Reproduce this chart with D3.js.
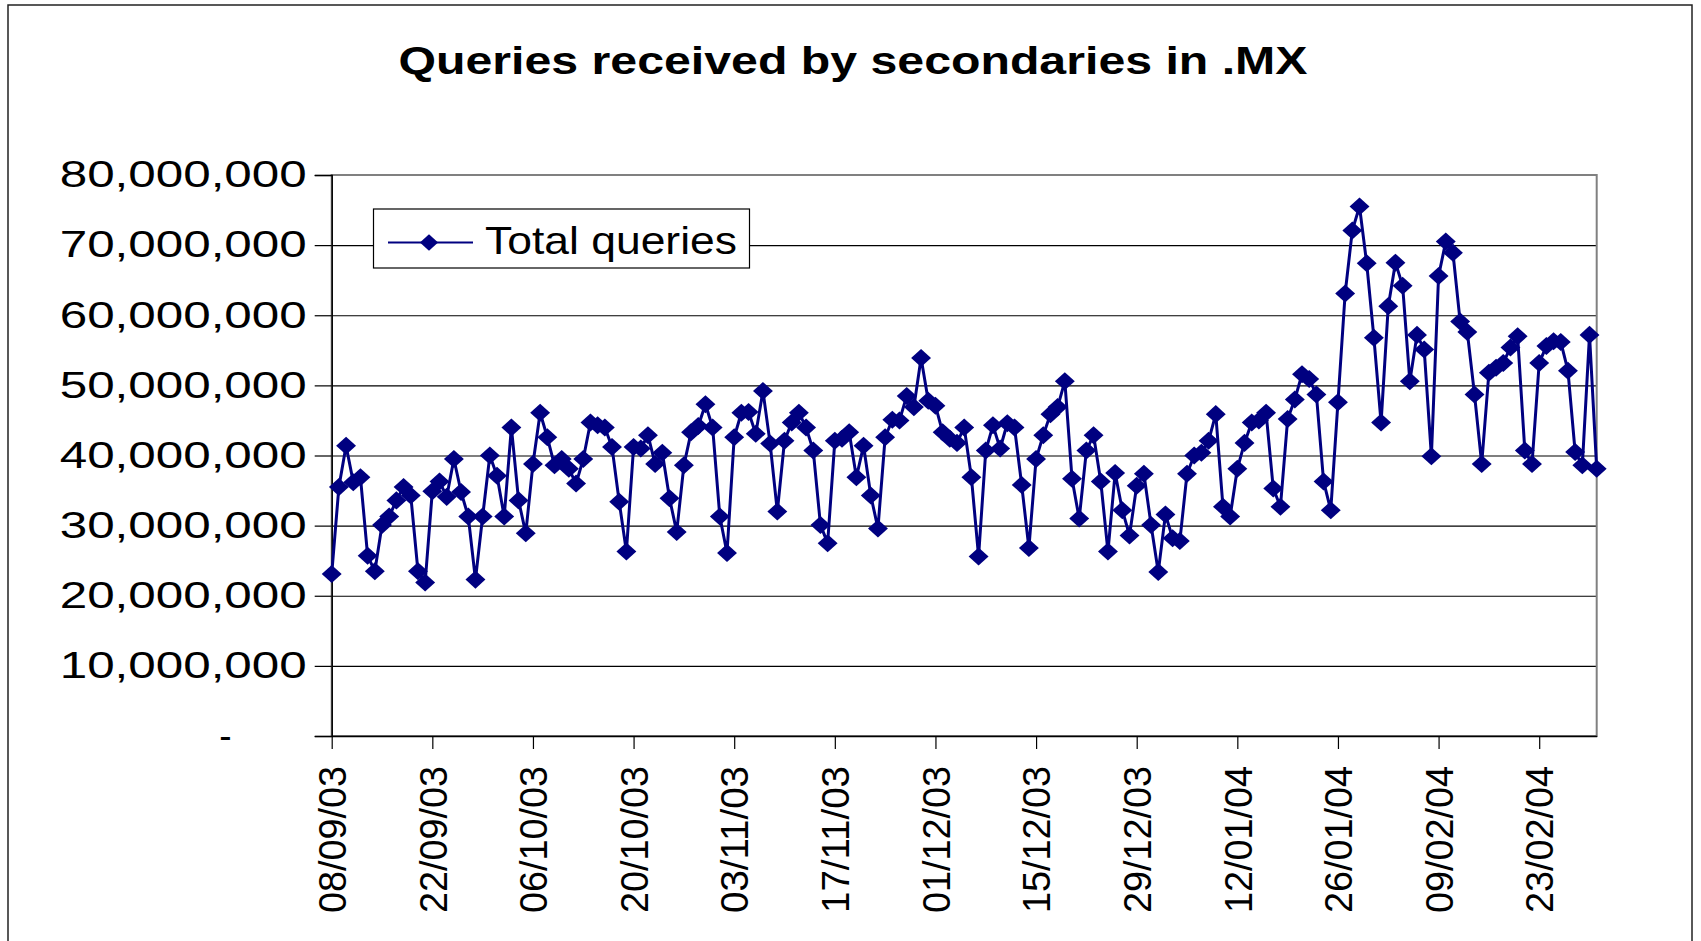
<!DOCTYPE html>
<html>
<head>
<meta charset="utf-8">
<script src="https://cdn.jsdelivr.net/npm/d3@7/dist/d3.min.js"></script>
<style>
  body { margin: 0; background: #fff; }
  svg { display: block; }
  text { font-family: "Liberation Sans", Arial, sans-serif; fill: #000; }
</style>
</head>
<body>
<svg id="chart"></svg>
<script>
// SET DATA
const startDay = "08/09/03";
// daily totals, millions of queries, 08/09/03 .. 02/03/04
const totalQueries = [
  23.1, 35.5, 41.4, 36.2, 36.9, 25.7, 23.5, 30.1, 31.3, 33.6, 35.5, 34.3, 23.5, 21.9,
  34.9, 36.3, 34.1, 39.5, 34.8, 31.3, 22.3, 31.3, 40.0, 37.1, 31.3, 44.0, 33.6, 28.9,
  38.8, 46.1, 42.6, 38.6, 39.5, 38.1, 36.0, 39.5, 44.7, 44.3, 44.0, 41.2, 33.4, 26.3,
  41.2, 41.0, 42.9, 38.8, 40.4, 33.9, 29.1, 38.6, 43.3, 44.2, 47.3, 44.0, 31.3, 26.1,
  42.6, 46.1, 46.2, 43.1, 49.2, 41.7, 32.0, 42.1, 44.7, 46.1, 44.0, 40.7, 30.1, 27.5,
  42.1, 42.4, 43.3, 36.9, 41.4, 34.3, 29.6, 42.6, 45.1, 45.0, 48.5, 46.9, 53.9, 47.8,
  47.1, 43.3, 42.4, 41.8, 44.0, 36.9, 25.6, 40.7, 44.3, 41.0, 44.6, 44.0, 35.8, 26.8,
  39.5, 42.9, 45.9, 46.9, 50.6, 36.7, 31.0, 40.7, 42.9, 36.3, 26.3, 37.5, 32.2, 28.6,
  35.7, 37.4, 30.1, 23.4, 31.6, 28.2, 27.8, 37.4, 40.0, 40.4, 42.1, 45.9, 32.7, 31.3,
  38.1, 41.8, 44.7, 45.0, 46.1, 35.3, 32.7, 45.2, 48.0, 51.6, 50.9, 48.7, 36.3, 32.2,
  47.6, 63.1, 72.1, 75.5, 67.4, 56.8, 44.7, 61.3, 67.5, 64.2, 50.6, 57.2, 55.1, 39.9,
  65.6, 70.5, 68.9, 59.1, 57.6, 48.7, 38.8, 51.8, 52.5, 53.2, 55.4, 57.0, 40.7, 38.8,
  53.2, 55.6, 56.3, 56.2, 52.1, 40.5, 38.6, 57.2, 38.1
];
const xTickLabels = ["08/09/03", "22/09/03", "06/10/03", "20/10/03", "03/11/03", "17/11/03", "01/12/03",
                     "15/12/03", "29/12/03", "12/01/04", "26/01/04", "09/02/04", "23/02/04"];
const yTickValues = [0, 10e6, 20e6, 30e6, 40e6, 50e6, 60e6, 70e6, 80e6];
const seriesName = "Total queries";
const chartTitle = "Queries received by secondaries in .MX";

// SET VARIABLES
const _width = 1701, _height = 941;
const _plot = {left: 331.7, top: 175, right: 1596.7, bottom: 736};
const _navy = "#000080";

const parseDay = d3.timeParse("%d/%m/%y");
const formatDay = d3.timeFormat("%d/%m/%y");
const day0 = parseDay(startDay);
const rows = totalQueries.map((v, i) => ({date: d3.timeDay.offset(day0, i), value: v * 1e6}));

const x = d3.scaleTime()
            .domain(d3.extent(rows, d => d.date))
            .range([_plot.left, _plot.right]);
const y = d3.scaleLinear()
            .domain([0, 80e6])
            .range([_plot.bottom, _plot.top]);

const svg = d3.select("#chart")
              .attr("width", _width)
              .attr("height", _height);

svg.append("rect")
    .attr("width", _width).attr("height", _height)
    .attr("fill", "#fff");

// outer frame
svg.append("rect")
    .attr("x", 8).attr("y", 5)
    .attr("width", 1684).attr("height", 1000)
    .attr("fill", "none")
    .attr("stroke", "#222")
    .attr("stroke-width", 1.5);

// title
svg.append("text")
    .attr("x", 853).attr("y", 74)
    .attr("text-anchor", "middle")
    .attr("font-size", 39)
    .attr("font-weight", "bold")
    .attr("textLength", 909)
    .attr("lengthAdjust", "spacingAndGlyphs")
    .text(chartTitle);

// gridlines
svg.append("g")
    .attr("transform", `translate(${_plot.left},0)`)
    .call(d3.axisLeft(y).tickValues(yTickValues).tickSize(-(_plot.right - _plot.left)).tickFormat(""))
    .call(g => g.select(".domain").remove())
    .call(g => g.selectAll(".tick line").attr("stroke", "#000").attr("stroke-width", 1.2));

// plot area border
svg.append("rect")
    .attr("x", _plot.left).attr("y", _plot.top)
    .attr("width", _plot.right - _plot.left)
    .attr("height", _plot.bottom - _plot.top)
    .attr("fill", "none")
    .attr("stroke", "#808080")
    .attr("stroke-width", 2);

// y axis
const yAxis = svg.append("g")
    .attr("transform", `translate(${_plot.left},0)`)
    .call(d3.axisLeft(y).tickValues(yTickValues).tickSize(17).tickPadding(8)
            .tickFormat(d => d === 0 ? "-" : d3.format(",")(d)));
yAxis.select(".domain").attr("stroke", "#000").attr("stroke-width", 1.5);
yAxis.selectAll(".tick line").attr("stroke", "#000").attr("stroke-width", 1.2);
yAxis.selectAll(".tick text")
    .attr("font-size", 37)
    .attr("font-family", null)
    .attr("fill", "#000")
    .each(function(d) {
      if (d !== 0) d3.select(this).attr("textLength", 247).attr("lengthAdjust", "spacingAndGlyphs");
      else d3.select(this).attr("x", -100);
    });

// x axis
const xAxis = svg.append("g")
    .attr("transform", `translate(0,${_plot.bottom})`)
    .call(d3.axisBottom(x).tickValues(xTickLabels.map(parseDay)).tickSize(13).tickSizeOuter(0)
            .tickFormat(formatDay));
xAxis.select(".domain").attr("stroke", "#000").attr("stroke-width", 1.5);
xAxis.selectAll(".tick line").attr("stroke", "#000").attr("stroke-width", 1.2);
xAxis.selectAll(".tick text")
    .attr("font-size", 38)
    .attr("font-family", null)
    .attr("fill", "#000")
    .attr("transform", "rotate(-90)")
    .attr("text-anchor", "end")
    .attr("x", -30)
    .attr("y", 0)
    .attr("dy", "0.36em")
    .attr("textLength", 147)
    .attr("lengthAdjust", "spacingAndGlyphs");

// series
const line = d3.line().x(d => x(d.date)).y(d => y(d.value));
svg.append("path")
    .datum(rows)
    .attr("d", line)
    .attr("fill", "none")
    .attr("stroke", _navy)
    .attr("stroke-width", 3)
    .attr("stroke-linejoin", "round");

const diamond = d3.symbol(d3.symbolSquare, 180);
svg.append("g")
    .selectAll("path")
    .data(rows)
    .enter()
  .append("path")
    .attr("d", diamond)
    .attr("transform", d => `translate(${x(d.date)},${y(d.value)}) scale(1.05,0.95) rotate(45)`)
    .attr("fill", _navy);

// legend
const legend = svg.append("g");
legend.append("rect")
    .attr("x", 373.5).attr("y", 209)
    .attr("width", 376).attr("height", 59)
    .attr("fill", "#fff")
    .attr("stroke", "#000")
    .attr("stroke-width", 1.2);
legend.append("line")
    .attr("x1", 388).attr("x2", 473)
    .attr("y1", 242.5).attr("y2", 242.5)
    .attr("stroke", _navy)
    .attr("stroke-width", 2);
legend.append("path")
    .attr("d", d3.symbol(d3.symbolSquare, 150))
    .attr("transform", "translate(429,242.5) scale(1.05,0.95) rotate(45)")
    .attr("fill", _navy);
legend.append("text")
    .attr("x", 485).attr("y", 254)
    .attr("font-size", 39)
    .attr("textLength", 252)
    .attr("lengthAdjust", "spacingAndGlyphs")
    .text(seriesName);
</script>
</body>
</html>
